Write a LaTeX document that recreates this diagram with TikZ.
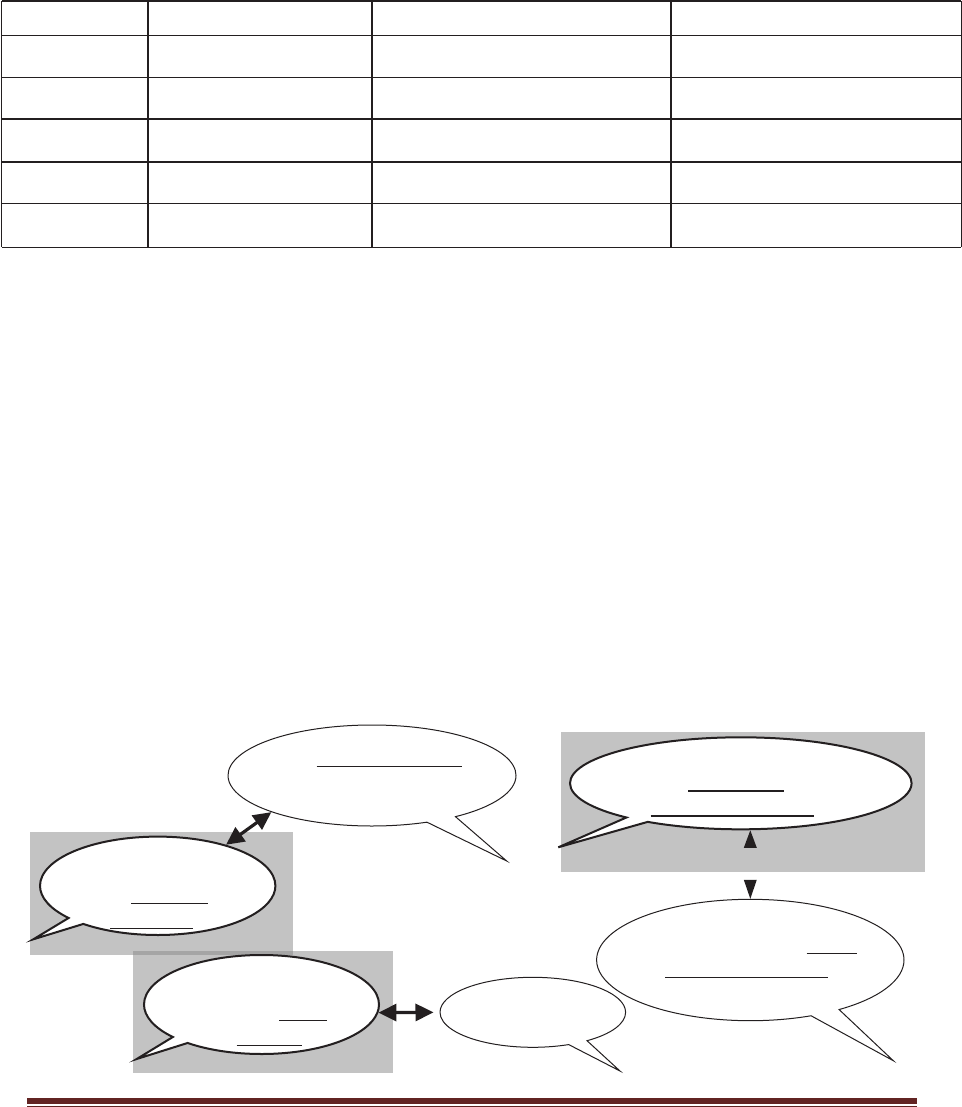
\documentclass[tikz,border=0pt]{standalone}
\usetikzlibrary{shapes.callouts,arrows.meta}

\begin{document}
\begin{tikzpicture}[x=0.5pt,y=-0.5pt,
    bubble/.style={ellipse callout, draw=ink, fill=white, inner sep=0pt, line width=0.5pt},
    boldbubble/.style={bubble, line width=1pt},
    shade/.style={fill=black!47, fill opacity=0.5},
    blank/.style={draw=ink, line width=0.5pt},
    link/.style={draw=ink, fill=ink, line width=1.6pt,
        {Triangle[length=9pt,width=8.5pt]}-{Triangle[length=9pt,width=8.5pt]}}]
    \definecolor{ink}{HTML}{231F20}
    \definecolor{footer_red}{HTML}{622423}
    \useasboundingbox (0,0) rectangle (962,1107);
    %\draw[help lines,step=50] (0,0) grid (962,1107);

    % empty table
    \foreach \y/\w in {1/1.0, 36/0.5, 77.3/0.5, 119.3/0.85, 161.7/0.85, 204/0.5, 247.3/0.5}
        \draw[ink, line width=\w pt] (1.5,\y) -- (961,\y);
    \foreach \x/\w in {1.5/0.5, 147.7/0.85, 371.7/0.85, 671/0.85, 961/0.5}
        \draw[ink, line width=\w pt] (\x,1) -- (\x,247.3);

    % grey backgrounds
    \path[shade] (30,832) rectangle (292.7,955);
    \path[shade] (133.3,950.7) rectangle (392.7,1073.3);
    \path[shade] (561,732.3) rectangle (925,871.7);

    % callouts
    \node[bubble, minimum width=144pt, minimum height=50.5pt,
        callout absolute pointer={(506.7,861)}, callout pointer arc=13] (A) at (372,775.5) {};
    \node[boldbubble, minimum width=117.7pt, minimum height=49.2pt,
        callout absolute pointer={(33.3,939.3)}, callout pointer arc=10] (B) at (157.7,885.8) {};
    \node[boldbubble, minimum width=117.5pt, minimum height=49.5pt,
        callout absolute pointer={(136.7,1059)}, callout pointer arc=10] (C) at (261.5,1004.5) {};
    \node[bubble, minimum width=92.8pt, minimum height=35pt,
        callout absolute pointer={(620,1071)}, callout pointer arc=13] (D) at (532.8,1012.3) {};
    \node[boldbubble, minimum width=170.8pt, minimum height=46pt,
        callout absolute pointer={(558.3,847.3)}, callout pointer arc=9] (E) at (740.8,783.3) {};
    \node[bubble, minimum width=153.7pt, minimum height=60.7pt,
        callout absolute pointer={(893.3,1060.7)}, callout pointer arc=12] (F) at (750.3,960) {};

    % blanks to fill in
    \draw[blank, line width=0.65pt] (316.7,766.7) -- (461.7,766.7);
    \draw[blank] (131,903) -- (207.7,903);
    \draw[blank] (110,928) -- (193.3,928);
    \draw[blank] (279.3,1020.7) -- (327.3,1020.7);
    \draw[blank] (236.7,1045.7) -- (301.7,1045.7);
    \draw[blank, line width=0.85pt] (688.3,790.7) -- (784,790.7);
    \draw[blank, line width=0.85pt] (650.7,815.7) -- (814,815.7);
    \draw[blank] (806.7,953.3) -- (856.7,953.3);
    \draw[blank] (665,977.3) -- (828.3,977.3);

    % links
    \draw[link] (B.31) -- (A.200);
    \draw[link, shorten >=3pt] (C.-4) -- (D.west);
    % E <-> F: heads only
    \fill[ink] (F.north |- E.south) -- ++(-6.5,17.5) -- ++(13,0) -- cycle;
    \fill[ink] (F.north) -- ++(-6.5,-19) -- ++(13,0) -- cycle;

    % footer rule
    \draw[footer_red, line width=3pt] (27,1101) -- (916.7,1101);
    \draw[footer_red, line width=0.4pt] (27,1106) -- (916.7,1106);
\end{tikzpicture}
\end{document}
